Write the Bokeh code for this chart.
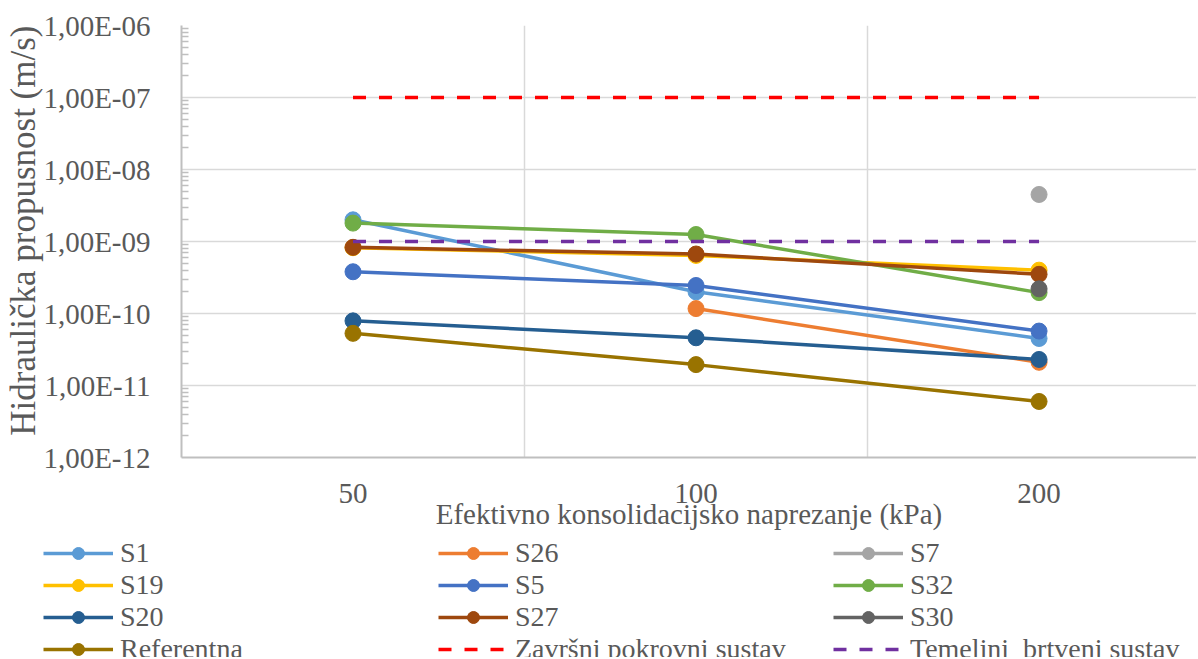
import numpy as np
from bokeh.plotting import figure
from bokeh.layouts import column
from bokeh.models import Range1d, FixedTicker, CustomJSTickFormatter, Legend, LegendItem, Title
from bokeh.embed import file_html
from bokeh.resources import INLINE

# ---------------- data ----------------
categories = ["50", "100", "200"]
nan = np.nan
S1 = [2.0e-9, 2.0e-10, 4.5e-11]
S26 = [nan, 1.17e-10, 2.1e-11]
S7 = [nan, nan, 4.5e-9]
S19 = [8.2e-10, 6.4e-10, 4.0e-10]
S5 = [3.8e-10, 2.45e-10, 5.7e-11]
S32 = [1.8e-9, 1.25e-9, 1.95e-10]
S20 = [7.9e-11, 4.6e-11, 2.3e-11]
S27 = [8.3e-10, 6.7e-10, 3.5e-10]
S30 = [nan, nan, 2.2e-10]
Referentna = [5.3e-11, 1.95e-11, 6.0e-12]
Zavrsni = [1e-7, 1e-7, 1e-7]
Temeljni = [1e-9, 1e-9, 1e-9]

series_names = ["S1", "S26", "S7", "S19", "S5", "S32", "S20", "S27", "S30", "Referentna"]
series_values = [S1, S26, S7, S19, S5, S32, S20, S27, S30, Referentna]
series_colors = ["#5B9BD5", "#ED7D31", "#A5A5A5", "#FFC000", "#4472C4", "#70AD47",
                 "#255E91", "#9E480E", "#636363", "#997300"]
limit_names = ["Završni pokrovni sustav", "Temeljni  brtveni sustav"]
limit_values = [Zavrsni, Temeljni]
limit_colors = ["#FF0000", "#7030A0"]

y_ticks = [10.0 ** e for e in range(-12, -5)]
y_minor = [m * 10.0 ** e for e in range(-12, -6) for m in range(2, 10)]

FONT = "Liberation Serif"
TXT = "#595959"
LW = 3.5
MS = 16
DASH = "13 13"

xs = np.arange(len(categories), dtype=float)

# ---------------- main chart ----------------
p = figure(width=1196, height=533, y_axis_type="log",
           x_range=Range1d(-0.5, 2.459), y_range=Range1d(1e-12, 1e-6),
           output_backend="svg", toolbar_location=None,
           min_border_left=181, min_border_right=0, min_border_top=25,
           min_border_bottom=76)
p.frame_align = False
p.outline_line_color = None
p.background_fill_color = "white"
p.border_fill_color = "white"

p.xaxis.ticker = FixedTicker(ticks=list(xs))
p.xaxis.major_label_overrides = {int(i): c for i, c in enumerate(categories)}
p.xaxis.major_tick_line_color = None
p.xaxis.minor_tick_line_color = None
p.xaxis.axis_line_color = "#BFBFBF"
p.xaxis.axis_line_width = 2
p.xaxis.major_label_text_font = FONT
p.xaxis.major_label_text_font_size = "29px"
p.xaxis.major_label_text_color = TXT
p.xaxis.major_label_standoff = 20
p.xaxis.axis_label = "Efektivno konsolidacijsko naprezanje (kPa)"
p.xaxis.axis_label_text_font = FONT
p.xaxis.axis_label_text_font_size = "29px"
p.xaxis.axis_label_text_font_style = "normal"
p.xaxis.axis_label_text_color = TXT
p.xaxis.axis_label_standoff = -8

p.yaxis.ticker = FixedTicker(ticks=y_ticks, minor_ticks=y_minor)
p.yaxis.formatter = CustomJSTickFormatter(code="""
const e = Math.round(Math.log10(tick));
const a = Math.abs(e);
return "1,00E" + (e < 0 ? "-" : "+") + (a < 10 ? "0" + a : "" + a);
""")
p.yaxis.axis_line_color = "#BFBFBF"
p.yaxis.axis_line_width = 2
p.yaxis.major_tick_line_color = None
p.yaxis.minor_tick_line_color = "#BFBFBF"
p.yaxis.minor_tick_line_width = 1.5
p.yaxis.minor_tick_in = 7
p.yaxis.minor_tick_out = 0
p.yaxis.major_label_text_font = FONT
p.yaxis.major_label_text_font_size = "29px"
p.yaxis.major_label_text_color = TXT
p.yaxis.major_label_standoff = 25

ytitle = Title(text="Hidraulička propusnost (m/s)", align="right", offset=0,
               text_font=FONT, text_font_size="35px", text_font_style="normal",
               text_color=TXT, standoff=-5)
p.add_layout(ytitle, "left")

p.xgrid.ticker = FixedTicker(ticks=[0.5, 1.5])
p.xgrid.grid_line_color = "#D9D9D9"
p.xgrid.grid_line_width = 1.5
p.ygrid.grid_line_color = "#D9D9D9"
p.ygrid.grid_line_width = 1.5

for vals, col in zip(series_values, series_colors):
    y = np.array(vals, dtype=float)
    p.line(xs, y, line_color=col, line_width=LW)
    p.scatter(xs, y, size=MS, fill_color=col, line_color=col)
for vals, col in zip(limit_values, limit_colors):
    y = np.array(vals, dtype=float)
    p.line(xs, y, line_color=col, line_width=LW, line_dash=DASH)

# ---------------- legend strip ----------------
lf = figure(width=1196, height=124, x_range=Range1d(0, 1), y_range=Range1d(0, 1),
            output_backend="svg", toolbar_location=None,
            x_axis_location=None, y_axis_location=None,
            min_border_left=0, min_border_right=0, min_border_top=0, min_border_bottom=0)
lf.frame_align = False
lf.outline_line_color = None
lf.grid.visible = False
lf.background_fill_color = "white"
lf.border_fill_color = "white"

blank = [nan]
items = []
for name, col in zip(series_names, series_colors):
    lr = lf.line(x=blank, y=blank, line_color=col, line_width=LW)
    sr = lf.scatter(x=blank, y=blank, size=MS, fill_color=col, line_color=col)
    items.append(LegendItem(label=name, renderers=[lr, sr]))
for name, col in zip(limit_names, limit_colors):
    lr = lf.line(x=blank, y=blank, line_color=col, line_width=LW, line_dash=DASH)
    items.append(LegendItem(label=name, renderers=[lr]))

legend = Legend(items=items, orientation="horizontal", ncols=3, location=(43, -8))
legend.label_text_font = FONT
legend.label_text_font_size = "28px"
legend.label_text_line_height = 1.0
legend.label_text_color = TXT
legend.glyph_width = 70
legend.glyph_height = 30
legend.label_standoff = 7
legend.label_width = 318
legend.label_height = 31
legend.spacing = 0
legend.padding = 0
legend.margin = 0
legend.border_line_color = None
legend.background_fill_alpha = 0
legend.label_text_baseline = "middle"
lf.add_layout(legend, "center")

open("out.html", "w").write(file_html(column(p, lf, spacing=0), INLINE))
